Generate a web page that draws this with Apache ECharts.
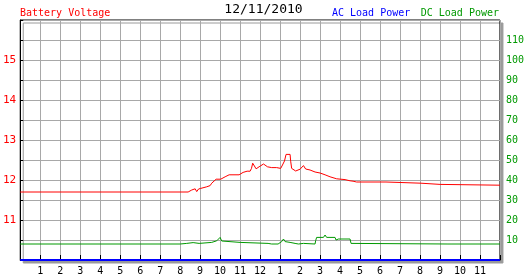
<!DOCTYPE html>
<html>
<head>
<meta charset="utf-8">
<script src="https://cdn.jsdelivr.net/npm/echarts@6/dist/echarts.min.js"></script>
<style>html,body{margin:0;padding:0;background:#fff}#c{width:527px;height:280px}</style>
</head>
<body>
<div id="c"></div>
<script>
// ---- data ----
const chartTitle = '12/11/2010';
const xTickLabels = ['', '1','2','3','4','5','6','7','8','9','10','11','12','1','2','3','4','5','6','7','8','9','10','11',''];
const leftTickLabels = [11, 12, 13, 14, 15];
const rightTickLabels = [10, 20, 30, 40, 50, 60, 70, 80, 90, 100, 110];

const voltHours = [0, 8.4, 8.47, 8.58, 8.67, 8.75, 8.83, 8.92, 9.03, 9.08, 9.33, 9.35, 9.5, 9.58, 9.67, 9.8, 10.03, 10.1, 10.25, 10.45, 10.95, 11.0, 11.15, 11.35, 11.5, 11.57, 11.63, 11.7, 11.8, 11.88, 11.95, 12.03, 12.17, 12.25, 12.37, 12.47, 12.58, 12.83, 12.9, 13.03, 13.12, 13.22, 13.3, 13.5, 13.53, 13.58, 13.67, 13.78, 13.88, 14.0, 14.08, 14.17, 14.28, 14.38, 14.5, 14.6, 14.75, 14.85, 15.0, 15.08, 15.25, 15.33, 15.5, 15.58, 15.83, 15.9, 16.25, 16.33, 16.5, 16.58, 16.65, 16.83, 18.3, 18.35, 20.05, 20.1, 21.0, 21.05, 24];
const voltage = [11.7, 11.7, 11.73, 11.75, 11.72, 11.78, 11.71, 11.775, 11.79, 11.83, 11.83, 11.86, 11.86, 11.92, 11.96, 12.02, 12.02, 12.04, 12.08, 12.13, 12.13, 12.17, 12.19, 12.22, 12.22, 12.29, 12.42, 12.375, 12.28, 12.33, 12.33, 12.375, 12.4, 12.42, 12.33, 12.29, 12.31, 12.31, 12.29, 12.29, 12.375, 12.475, 12.64, 12.64, 12.47, 12.29, 12.25, 12.225, 12.27, 12.27, 12.32, 12.36, 12.275, 12.25, 12.25, 12.2, 12.2, 12.175, 12.175, 12.13, 12.13, 12.08, 12.08, 12.03, 12.03, 12.01, 12.01, 11.98, 11.98, 12.01, 11.97, 11.95, 11.95, 11.92, 11.92, 11.89, 11.89, 11.87, 11.87];

const dcHours = [0, 8.0, 8.03, 8.1, 8.33, 8.4, 8.65, 8.75, 8.95, 9.0, 9.58, 9.65, 9.83, 10.0, 10.08, 10.15, 11.0, 11.08, 12.4, 12.5, 12.58, 12.9, 13.0, 13.08, 13.17, 13.25, 13.33, 13.5, 13.58, 13.75, 13.83, 13.92, 14.0, 14.17, 14.25, 14.75, 14.78, 14.83, 15.17, 15.25, 15.33, 15.75, 15.8, 15.87, 15.92, 16.5, 16.55, 16.58, 21.4, 21.5, 21.6, 24];
const dcLoad = [8, 8, 8.8, 8.3, 8.3, 8.7, 8.7, 8.3, 8.3, 8.8, 8.8, 9.2, 9.6, 11.3, 9.5, 8.8, 8.8, 8.3, 8.3, 8.7, 8.0, 8.0, 7.8, 9.2, 10.5, 9.2, 8.8, 8.8, 8.3, 8.3, 8.0, 8.0, 8.3, 8.3, 8.0, 8.0, 9.7, 11.3, 11.3, 12.5, 11.3, 11.3, 10.0, 11.0, 10.5, 10.5, 8.3, 8.0, 8.0, 8.5, 8.0, 8];

const acHours = [0, 24];
const acLoad = [0, 0];

const zip = (a, b) => a.map((v, i) => [v, b[i]]);
const mono = 'DejaVu Sans Mono';

const chart = echarts.init(document.getElementById('c'), null, {renderer: 'canvas'});
chart.setOption({
  animation: false,
  backgroundColor: '#ffffff',
  title: [
    {text: chartTitle, left: 'center', top: 3, padding: 0,
     textStyle: {fontFamily: mono, fontSize: 13, fontWeight: 'normal', color: '#000'}},
    {text: 'Battery Voltage', left: 20, top: 8, padding: 0,
     textStyle: {fontFamily: mono, fontSize: 10, fontWeight: 'normal', color: '#ff0000'}},
    {text: 'AC Load Power', left: 332, top: 8, padding: 0,
     textStyle: {fontFamily: mono, fontSize: 10, fontWeight: 'normal', color: '#0000ff'}},
    {text: 'DC Load Power', right: 28, top: 8, padding: 0,
     textStyle: {fontFamily: mono, fontSize: 10, fontWeight: 'normal', color: '#009900'}}
  ],
  grid: {
    left: 20, right: 27, top: 20, bottom: 20, containLabel: false,
    show: true, backgroundColor: '#ffffff', borderColor: '#000', borderWidth: 1,
    shadowColor: '#9a9a9a', shadowBlur: 0, shadowOffsetX: 3, shadowOffsetY: 3
  },
  xAxis: {
    type: 'value', min: 0, max: 24, interval: 1,
    axisLine: {show: true, lineStyle: {color: '#000', width: 1}},
    axisTick: {show: true, inside: true, length: 5, lineStyle: {color: '#000'}},
    splitLine: {show: true, lineStyle: {color: '#a8a8a8', width: 1}},
    axisLabel: {margin: 6, fontFamily: mono, fontSize: 10, color: '#000',
      formatter: v => xTickLabels[Math.round(v)] || ''}
  },
  yAxis: [
    {
      type: 'value', min: 10, max: 16, interval: 0.5, position: 'left',
      axisLine: {show: true, lineStyle: {color: '#000'}},
      axisTick: {show: true, inside: true, length: 3, lineStyle: {color: '#000'}},
      splitLine: {show: true, lineStyle: {color: '#a8a8a8', width: 1}},
      axisLabel: {margin: 4, fontFamily: mono, fontSize: 11, color: '#ff0000',
        formatter: v => leftTickLabels.indexOf(v) >= 0 ? String(v) : ''}
    },
    {
      type: 'value', min: 0, max: 120, interval: 10, position: 'right',
      axisLine: {show: false},
      axisTick: {show: false},
      splitLine: {show: false},
      axisLabel: {margin: 6, fontFamily: mono, fontSize: 10, color: '#009900',
        formatter: v => rightTickLabels.indexOf(v) >= 0 ? String(v) : ''}
    }
  ],
  series: [
    {name: 'Battery Voltage', type: 'line', yAxisIndex: 0, data: zip(voltHours, voltage),
     showSymbol: false, lineStyle: {color: '#ff0000', width: 1}, z: 3},
    {name: 'DC Load Power', type: 'line', yAxisIndex: 1, data: zip(dcHours, dcLoad),
     showSymbol: false, lineStyle: {color: '#009900', width: 1}, z: 3},
    {name: 'AC Load Power', type: 'line', yAxisIndex: 1, data: zip(acHours, acLoad),
     showSymbol: false, clip: false, lineStyle: {color: '#0000ff', width: 2}, z: 4}
  ]
});
</script>
</body>
</html>
